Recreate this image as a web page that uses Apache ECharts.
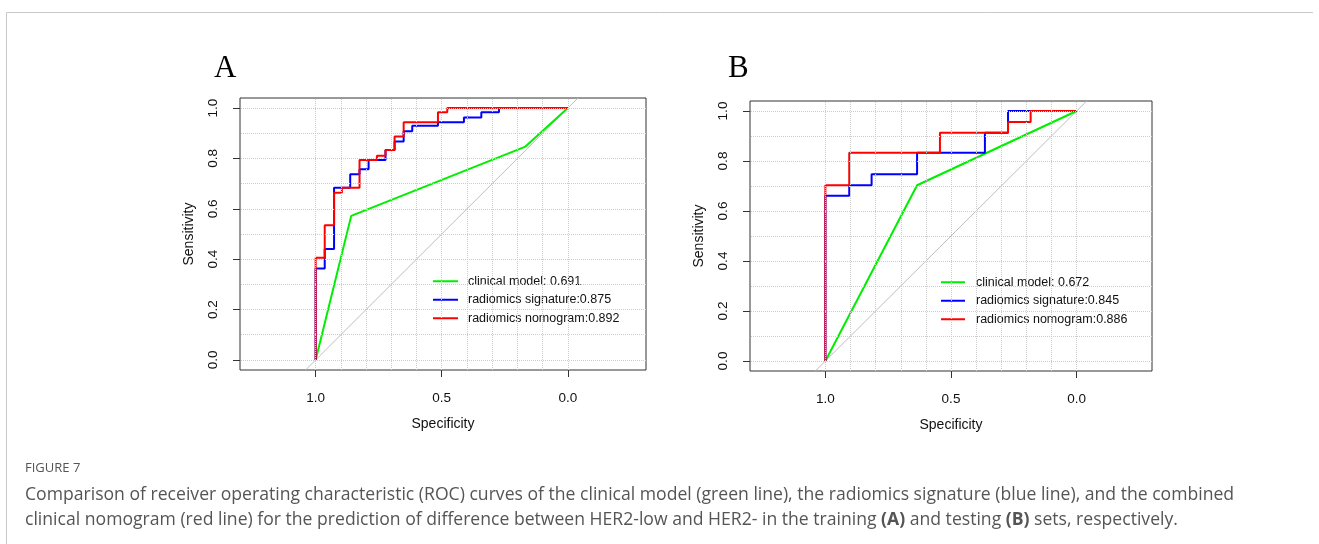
<!DOCTYPE html>
<html>
<head>
<meta charset="utf-8">
<script src="https://cdn.jsdelivr.net/npm/echarts@6/dist/echarts.min.js"></script>
<style>
html,body{margin:0;padding:0;background:#fff;}
#c{width:1319px;height:544px;}
</style>
</head>
<body>
<div id="c"></div>
<script>
// ---- labels ----
const panelLabels = ['A', 'B'];
const legendA = ['clinical model: 0.691', 'radiomics signature:0.875', 'radiomics nomogram:0.892'];
const legendB = ['clinical model: 0.672', 'radiomics signature:0.845', 'radiomics nomogram:0.886'];
const xTicks = [1.0, 0.5, 0.0];
const yTicks = [0.0, 0.2, 0.4, 0.6, 0.8, 1.0];
const gridValues = [0, 0.1, 0.2, 0.3, 0.4, 0.5, 0.6, 0.7, 0.8, 0.9, 1.0];
const diagSpec = [1.04, -0.04];
const diagSens = [-0.04, 1.04];

// ---- Panel A (training) : step points (spec, sens after jump) ----
const clinA_spec = [1.0, 0.859, 0.168, 0.0];
const clinA_sens = [0.0, 0.572, 0.847, 1.0];
const sigA_spec = [1.0, 1.0, 0.964, 0.927, 0.863, 0.826, 0.790, 0.723, 0.687, 0.651, 0.617, 0.515, 0.412, 0.343, 0.273, 0.0];
const sigA_sens = [0.0, 0.363, 0.440, 0.684, 0.737, 0.757, 0.794, 0.834, 0.867, 0.908, 0.930, 0.944, 0.963, 0.983, 1.0, 1.0];
const nomA_spec = [1.0, 1.0, 0.964, 0.927, 0.896, 0.826, 0.757, 0.723, 0.687, 0.651, 0.515, 0.478, 0.0];
const nomA_sens = [0.0, 0.406, 0.535, 0.664, 0.684, 0.794, 0.811, 0.834, 0.887, 0.944, 0.983, 1.0, 1.0];

// ---- Panel B (testing) ----
const clinB_spec = [1.0, 0.635, 0.0];
const clinB_sens = [0.0, 0.703, 1.0];
const sigB_spec = [1.0, 1.0, 0.905, 0.816, 0.635, 0.365, 0.273, 0.0];
const sigB_sens = [0.0, 0.661, 0.703, 0.747, 0.833, 0.913, 1.0, 1.0];
const nomB_spec = [1.0, 1.0, 0.905, 0.544, 0.273, 0.183, 0.0];
const nomB_sens = [0.0, 0.703, 0.833, 0.913, 0.956, 1.0, 1.0];

const figLabel = 'FIGURE 7';
const captionLine1 = 'Comparison of receiver operating characteristic (ROC) curves of the clinical model (green line), the radiomics signature (blue line), and the combined';
const captionLine2a = 'clinical nomogram (red line) for the prediction of difference between HER2-low and HER2- in the training ';
const captionLine2b = ' and testing ';
const captionLine2c = ' sets, respectively.';

const colors = ['#00ee00', '#0000ff', '#ff0000'];
const pairs = (xs, ys) => xs.map((x, i) => [x, ys[i]]);

const chart = echarts.init(document.getElementById('c'), null, {renderer: 'canvas'});

const font = 'Liberation Sans, Arial, sans-serif';
const capFont = 'Open Sans, sans-serif';
function xAxis(gi, min, max) {
  return {
    type: 'value', gridIndex: gi, inverse: true, min: min, max: max,
    name: 'Specificity', nameLocation: 'middle', nameGap: 47,
    nameTextStyle: {fontFamily: font, fontSize: 14, color: '#111'},
    axisLine: {show: false, onZero: false},
    axisTick: {show: true, inside: false, length: 7, customValues: xTicks, lineStyle: {color: '#333'}},
    axisLabel: {customValues: xTicks, margin: 21, fontFamily: font, fontSize: 13.5, color: '#111',
      formatter: v => Number(v).toFixed(1)},
    splitLine: {show: false}
  };
}
function yAxis(gi) {
  return {
    type: 'value', gridIndex: gi, min: -0.04, max: 1.04,
    name: 'Sensitivity', nameLocation: 'middle', nameGap: 44, nameRotate: 90,
    nameTextStyle: {fontFamily: font, fontSize: 14, color: '#111'},
    axisLine: {show: false, onZero: false},
    axisTick: {show: true, inside: false, length: 7, customValues: yTicks, lineStyle: {color: '#333'}},
    axisLabel: {customValues: yTicks, rotate: 90, margin: 20, fontFamily: font, fontSize: 13.5, color: '#111',
      formatter: v => Number(v).toFixed(1)},
    splitLine: {show: false}
  };
}
function panelSeries(gi, data, names) {
  const out = [];
  out.push({
    type: 'line', xAxisIndex: gi, yAxisIndex: gi, data: pairs(diagSpec, diagSens),
    symbol: 'none', silent: true, z: 1,
    lineStyle: {color: '#bdbdbd', width: 1},
    markLine: {
      silent: true, symbol: ['none', 'none'], label: {show: false},
      lineStyle: {color: '#cccccc', type: 'dotted', width: 1},
      data: gridValues.map(v => ({xAxis: v})).concat(gridValues.map(v => ({yAxis: v})))
    }
  });
  data.forEach((d, i) => {
    out.push({
      type: 'line', name: names[i], xAxisIndex: gi, yAxisIndex: gi,
      data: pairs(d[0], d[1]), step: i === 0 ? false : 'end', symbol: 'none', z: 2 + i,
      lineStyle: {color: colors[i], width: 2}, itemStyle: {color: colors[i]}
    });
  });
  return out;
}

const legendCommon = {
  orient: 'vertical', icon: 'rect', itemHeight: 2, itemGap: 0, selectedMode: false,
  lineStyle: {width: 1.5}
};

const option = {
  animation: false,
  backgroundColor: '#fff',
  title: [
    {text: panelLabels[0], left: 209, top: 48, textStyle: {fontFamily: 'Liberation Serif, serif', fontSize: 31, fontWeight: 'normal', color: '#000'}},
    {text: panelLabels[1], left: 723, top: 48, textStyle: {fontFamily: 'Liberation Serif, serif', fontSize: 31, fontWeight: 'normal', color: '#000'}},
    {text: figLabel, left: 20, top: 457, textStyle: {fontFamily: capFont, fontSize: 13, fontWeight: 'normal', color: '#555'}},
    {text: captionLine1 + '\n' + captionLine2a + '{b|(A)}' + captionLine2b + '{b|(B)}' + captionLine2c,
     left: 20, top: 477,
     textStyle: {fontFamily: capFont, fontSize: 17.6, fontWeight: 'normal', color: '#555', lineHeight: 25,
       rich: {b: {fontFamily: capFont, fontSize: 17.6, fontWeight: 'bold', color: '#555', lineHeight: 25}}}}
  ],
  grid: [
    {left: 240, top: 98, width: 406, height: 272, show: true, borderColor: '#333', borderWidth: 1, backgroundColor: 'transparent'},
    {left: 750, top: 101, width: 402, height: 270, show: true, borderColor: '#333', borderWidth: 1, backgroundColor: 'transparent'}
  ],
  xAxis: [xAxis(0, -0.31, 1.3), xAxis(1, -0.3, 1.3)],
  yAxis: [yAxis(0), yAxis(1)],
  legend: [
    Object.assign({}, legendCommon, {data: legendA, left: 428, top: 267, itemWidth: 25,
     textStyle: {fontFamily: font, fontSize: 12.5, color: '#111', lineHeight: 18.5, padding: [0, 0, 0, 5]}}),
    Object.assign({}, legendCommon, {data: legendB, left: 936, top: 268, itemWidth: 24,
     textStyle: {fontFamily: font, fontSize: 12.5, color: '#111', lineHeight: 18.5, padding: [0, 0, 0, 6]}})
  ],
  graphic: [
    {type: 'line', shape: {x1: 6.5, y1: 12.5, x2: 1313, y2: 12.5}, style: {stroke: '#c8c8c8', lineWidth: 1}, silent: true},
    {type: 'line', shape: {x1: 6.5, y1: 12.5, x2: 6.5, y2: 544}, style: {stroke: '#c8c8c8', lineWidth: 1}, silent: true}
  ],
  series: [].concat(
    panelSeries(0, [[clinA_spec, clinA_sens], [sigA_spec, sigA_sens], [nomA_spec, nomA_sens]], legendA),
    panelSeries(1, [[clinB_spec, clinB_sens], [sigB_spec, sigB_sens], [nomB_spec, nomB_sens]], legendB)
  )
};
chart.setOption(option);
</script>
</body>
</html>
